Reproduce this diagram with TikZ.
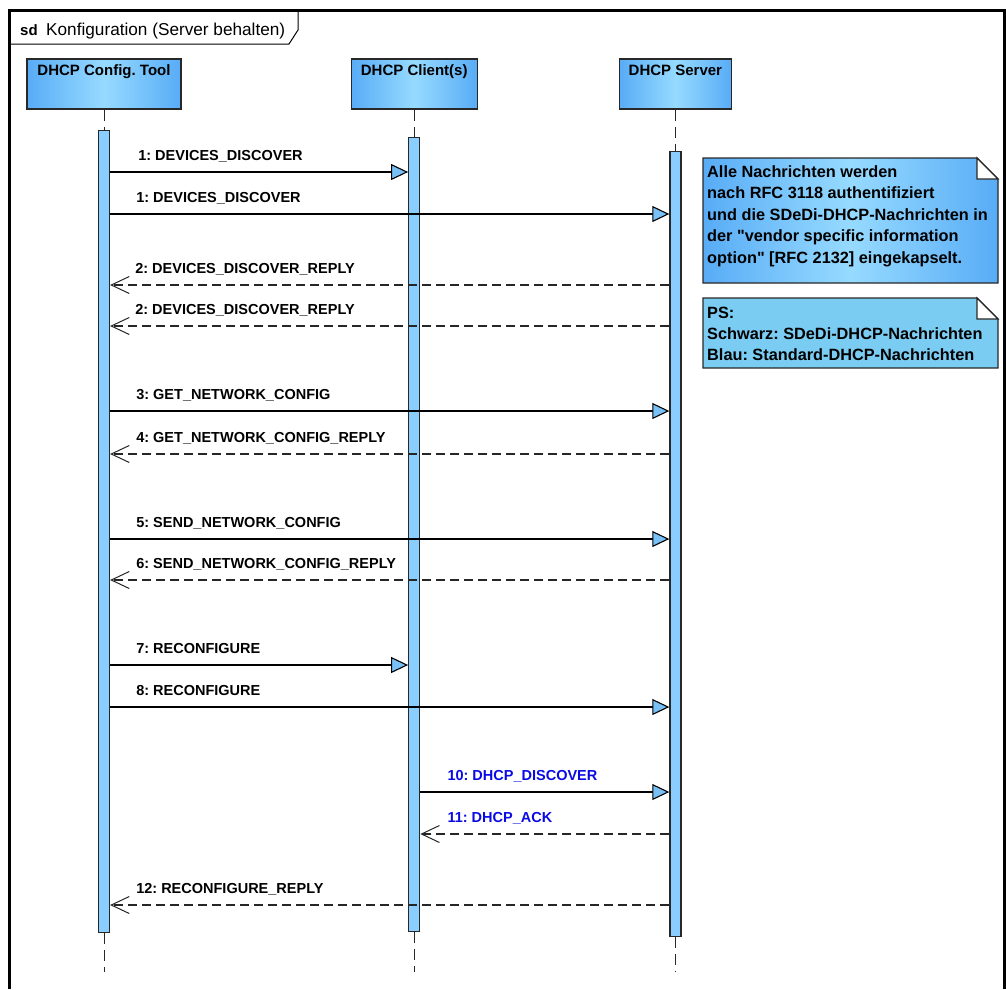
\documentclass[tikz,border=0pt]{standalone}
\usepackage{fontspec}
\setmainfont{Liberation Sans}[Ligatures=TeXOff]
\usetikzlibrary{arrows.meta,
                positioning,
                calc}
\frenchspacing
\definecolor{headedge}{RGB}{88,172,246}
\definecolor{headmid}{RGB}{150,218,255}
\definecolor{actblue}{RGB}{138,206,255}
\definecolor{noteflat}{RGB}{122,204,242}
\definecolor{tipblue}{RGB}{120,192,246}
\definecolor{msgblue}{RGB}{10,10,230}
\definecolor{outline}{RGB}{40,40,40}
\tikzset{
	% lifeline heads
	head/.style={
	       rectangle,
	       draw=outline, line width=1.2pt,
	       left color=headedge, right color=headedge, middle color=headmid,
	       minimum height=50pt,
	       inner sep=0pt},
	headtxt/.style={
	       font=\fontsize{15}{17}\selectfont\bfseries,
	       inner sep=0pt,
	       anchor=base},
	% activation bars
	act/.style={
	       rectangle,
	       draw=outline, line width=1.2pt,
	       fill=actblue,
	       minimum width=11pt,
	       inner sep=0pt},
	life/.style={
	       draw=outline, line width=1pt,
	       dash pattern=on 11pt off 6pt},
	% messages
	call/.style={
	       draw=black, line width=1.1pt,
	       -{Triangle[length=17pt, width=16pt, fill=tipblue]}},
	reply/.style={
	       draw=black!85, line width=1.1pt,
	       dash pattern=on 9pt off 5pt,
	       -{Straight Barb[length=18pt, width=17pt, line width=1pt]}},
	lbl/.style={
	       font=\fontsize{14.5}{16}\selectfont\bfseries,
	       inner sep=0pt,
	       anchor=base west},
	% notes
	notebox/.style={
	       draw=outline, line width=1.2pt},
	notetxt/.style={
	       font=\fontsize{16.3}{21.5}\selectfont\bfseries,
	       align=left,
	       inner sep=0pt,
	       anchor=north west}
}
\begin{document}
\begin{tikzpicture}[x=1pt, y=-1pt]
	\useasboundingbox (0,0) rectangle (1006,989);
	% frame and tab
	\draw[line width=3pt] (9,989) -- (9,10) -- (1004,10) -- (1004,989);
	\draw[line width=1pt] (9,44) -- (289,44) -- (298,30) -- (298,10);
	\node[font=\fontsize{15}{17}\selectfont\bfseries, anchor=base west, inner sep=0pt] (sdtag) at (20,35) {sd};
	\node[font=\fontsize{17.2}{19}\selectfont, anchor=base west, inner sep=0pt] (title) at (46,35) {Konfiguration (Server behalten)};
	% lifeline heads
	\node[head, minimum width=154pt] (tool) at (104,84) {};
	\node[head, minimum width=126pt, right=169pt of tool] (client) {};
	\node[head, minimum width=112pt, right=141pt of client] (server) {};
	\node[headtxt] (tooltxt) at ([yshift=-17pt]tool.north) {DHCP Config. Tool};
	\node[headtxt] (clienttxt) at ([yshift=-17pt]client.north) {DHCP Client(s)};
	\node[headtxt] (servertxt) at ([yshift=-17pt]server.north) {DHCP Server};
	% activation bars
	\node[act, minimum height=802pt, below=20pt of tool] (toolact) {};
	\node[act, minimum height=794pt, below=27pt of client] (cliact) {};
	\node[act, minimum height=785pt, below=41pt of server] (srvact) {};
	\coordinate (toolend) at (toolact.south |- 0,972);
	\coordinate (cliend) at (cliact.south |- 0,972);
	\coordinate (srvend) at (srvact.south |- 0,972);
	\draw[life] (tool) -- (toolact);
	\draw[life] (client) -- (cliact);
	\draw[life] (server) -- (srvact);
	\draw[life] (toolact) -- (toolend);
	\draw[life] (cliact) -- (cliend);
	\draw[life] (srvact) -- (srvend);
	% messages
	\draw[call] (toolact.east |- 0,172) -- (cliact.west |- 0,172);
	\node[lbl, xshift=28pt, yshift=12pt] (msg1) at (toolact.east |- 0,172) {1: DEVICES\_DISCOVER};
	\draw[call] (toolact.east |- 0,214) -- (srvact.west |- 0,214);
	\node[lbl, xshift=26pt, yshift=12pt] (msg1b) at (toolact.east |- 0,214) {1: DEVICES\_DISCOVER};
	\draw[reply] (srvact.west |- 0,285) -- (toolact.east |- 0,285);
	\node[lbl, xshift=25pt, yshift=12pt] (msg2) at (toolact.east |- 0,285) {2: DEVICES\_DISCOVER\_REPLY};
	\draw[reply] (srvact.west |- 0,326) -- (toolact.east |- 0,326);
	\node[lbl, xshift=25pt, yshift=12pt] (msg2b) at (toolact.east |- 0,326) {2: DEVICES\_DISCOVER\_REPLY};
	\draw[call] (toolact.east |- 0,411) -- (srvact.west |- 0,411);
	\node[lbl, xshift=26pt, yshift=12pt] (msg3) at (toolact.east |- 0,411) {3: GET\_NETWORK\_CONFIG};
	\draw[reply] (srvact.west |- 0,454) -- (toolact.east |- 0,454);
	\node[lbl, xshift=26pt, yshift=12pt] (msg4) at (toolact.east |- 0,454) {4: GET\_NETWORK\_CONFIG\_REPLY};
	\draw[call] (toolact.east |- 0,539) -- (srvact.west |- 0,539);
	\node[lbl, xshift=26pt, yshift=12pt] (msg5) at (toolact.east |- 0,539) {5: SEND\_NETWORK\_CONFIG};
	\draw[reply] (srvact.west |- 0,580) -- (toolact.east |- 0,580);
	\node[lbl, xshift=26pt, yshift=12pt] (msg6) at (toolact.east |- 0,580) {6: SEND\_NETWORK\_CONFIG\_REPLY};
	\draw[call] (toolact.east |- 0,665) -- (cliact.west |- 0,665);
	\node[lbl, xshift=26pt, yshift=12pt] (msg7) at (toolact.east |- 0,665) {7: RECONFIGURE};
	\draw[call] (toolact.east |- 0,707) -- (srvact.west |- 0,707);
	\node[lbl, xshift=26pt, yshift=12pt] (msg8) at (toolact.east |- 0,707) {8: RECONFIGURE};
	\draw[call] (cliact.east |- 0,792) -- (srvact.west |- 0,792);
	\node[lbl, text=msgblue, xshift=27pt, yshift=12pt] (msg10) at (cliact.east |- 0,792) {10: DHCP\_DISCOVER};
	\draw[reply] (srvact.west |- 0,834) -- (cliact.east |- 0,834);
	\node[lbl, text=msgblue, xshift=27pt, yshift=12pt] (msg11) at (cliact.east |- 0,834) {11: DHCP\_ACK};
	\draw[reply] (srvact.west |- 0,905) -- (toolact.east |- 0,905);
	\node[lbl, xshift=26pt, yshift=12pt] (msg12) at (toolact.east |- 0,905) {12: RECONFIGURE\_REPLY};
	% notes
	\shade[left color=headedge, right color=headedge, middle color=headmid] (703,158) -- (977,158) -- (998,179) -- (998,283) -- (703,283) -- cycle;
	\draw[notebox] (703,158) -- (977,158) -- (998,179) -- (998,283) -- (703,283) -- cycle;
	\draw[notebox, fill=white] (977,158) -- (977,179) -- (998,179) -- cycle;
	\node[notetxt] (note1) at (707,165) {Alle Nachrichten werden\\
		nach RFC 3118 authentifiziert\\
		und die SDeDi-DHCP-Nachrichten in\\
		der "vendor specific information\\
		option" [RFC 2132] eingekapselt.};
	\draw[notebox, fill=noteflat] (703,298) -- (977,298) -- (998,319) -- (998,368) -- (703,368) -- cycle;
	\draw[notebox, fill=white] (977,298) -- (977,319) -- (998,319) -- cycle;
	\node[notetxt, font=\fontsize{16.3}{21}\selectfont\bfseries] (note2) at (707,307) {PS:\\
		Schwarz: SDeDi-DHCP-Nachrichten\\
		Blau: Standard-DHCP-Nachrichten};
\end{tikzpicture}
\end{document}
